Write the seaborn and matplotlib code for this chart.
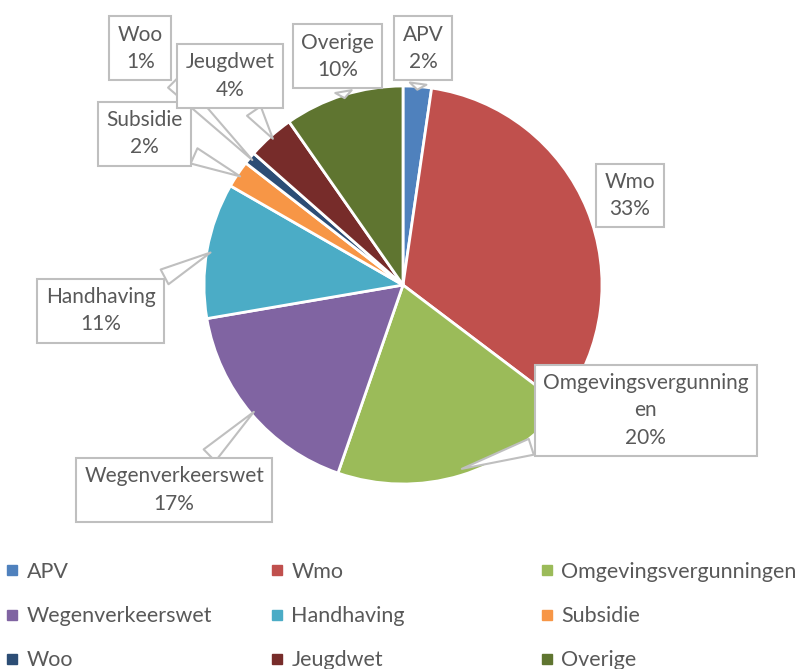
"""Pie chart of request categories with callout labels."""

import matplotlib.pyplot as plt
import numpy as np
import seaborn as sns
from matplotlib.lines import Line2D

categories = ["APV", "Wmo", "Omgevingsvergunningen", "Wegenverkeerswet",
              "Handhaving", "Subsidie", "Woo", "Jeugdwet", "Overige"]
shares = [2.3, 33.0, 20.0, 17.0, 11.0, 2.2, 1.0, 3.8, 9.7]
label_texts = ["APV", "Wmo", "Omgevingsvergunning\nen", "Wegenverkeerswet",
               "Handhaving", "Subsidie", "Woo", "Jeugdwet", "Overige"]
colors = ["#4F81BD", "#C0504D", "#9BBB59", "#8064A2", "#4BACC6",
          "#F79646", "#2C4D75", "#772C2A", "#5F7530"]

# callout box centres, in pie-radius units relative to the centre
label_pos = [(0.10, 1.19), (1.14, 0.45), (1.22, -0.63), (-1.15, -1.03),
             (-1.52, -0.13), (-1.30, 0.76), (-1.32, 1.19), (-0.87, 1.05),
             (-0.33, 1.15)]

sns.set_theme(style="white")
plt.rcParams["font.family"] = ["Lato", "DejaVu Sans"]
palette = sns.color_palette(colors)

W, H = 806, 669
fig = plt.figure(figsize=(W / 100, H / 100), dpi=100)
cx, cy, r = 403, 285, 199
ax = fig.add_axes([(cx - r) / W, (H - cy - r) / H, 2 * r / W, 2 * r / H])

wedges, _ = ax.pie(shares, colors=palette, startangle=90, counterclock=False,
                   wedgeprops=dict(edgecolor="white", linewidth=2))
ax.set_xlim(-1, 1)
ax.set_ylim(-1, 1)
ax.set_aspect("equal")
ax.axis("off")

for i, (w, txt, val, (lx, ly)) in enumerate(zip(wedges, label_texts, shares, label_pos)):
    mid = np.deg2rad((w.theta1 + w.theta2) / 2)
    rr = 1.05 if categories[i] == "Wmo" else 0.97
    px, py = rr * np.cos(mid), rr * np.sin(mid)
    ax.annotate(f"{txt}\n{val:.0f}%", xy=(px, py), xytext=(lx, ly),
                ha="center", va="center", fontsize=15, color="#595959",
                linespacing=1.45, annotation_clip=False,
                bbox=dict(boxstyle="square,pad=0.4", fc="white",
                          ec="#BFBFBF", lw=1.5),
                arrowprops=dict(arrowstyle="wedge,tail_width=0.8,shrink_factor=0.5",
                                fc="white", ec="#BFBFBF", lw=1.5))

# legend in three fixed columns, filled row by row
col_x = [6, 271, 541]
for c in range(3):
    idx = [c, c + 3, c + 6]
    handles = [Line2D([], [], marker="s", linestyle="none", markersize=7,
                      color=palette[i]) for i in idx]
    fig.legend(handles, [categories[i] for i in idx],
               loc="upper left", bbox_to_anchor=(col_x[c] / W, 1 - 562 / H),
               frameon=False, fontsize=15.5, labelcolor="#595959",
               handlelength=0.6, handletextpad=0.35, labelspacing=1.12,
               borderaxespad=0, borderpad=0)

fig.savefig("out.png", dpi=100)
